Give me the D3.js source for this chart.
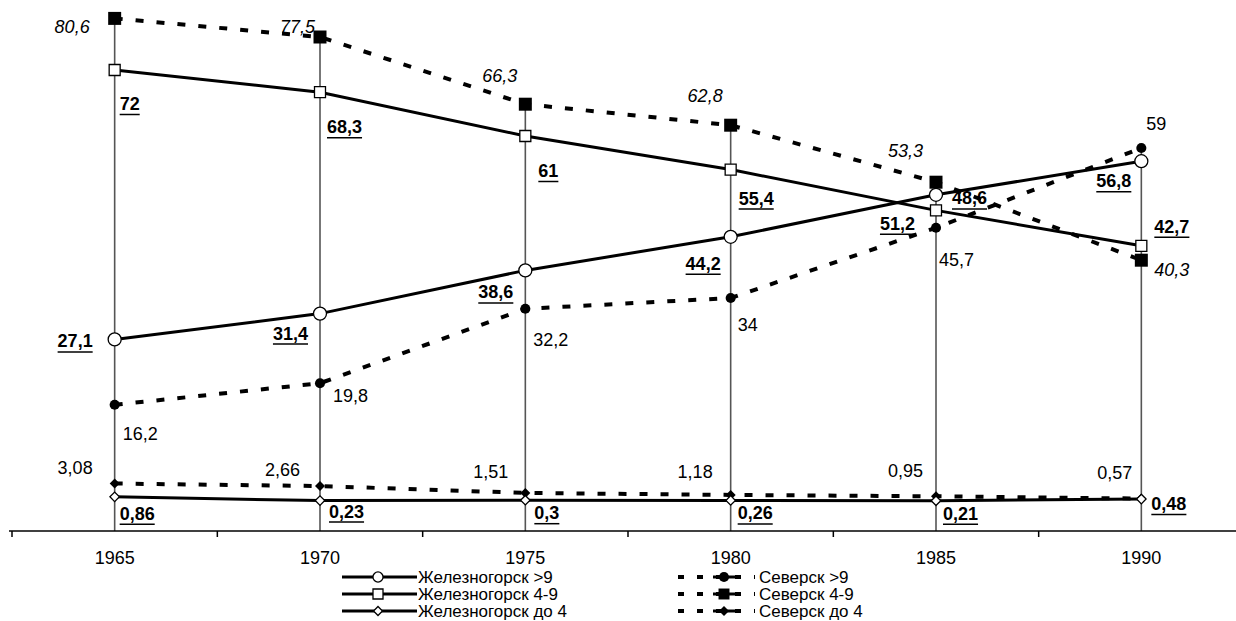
<!DOCTYPE html>
<html><head><meta charset="utf-8">
<script src="https://cdn.jsdelivr.net/npm/d3@7"></script>
<style>
html,body{margin:0;padding:0;background:#fff;}
svg{display:block;font-family:"Liberation Sans",Arial,sans-serif;}
</style></head>
<body><svg id="c" width="1236" height="621"></svg>
<script>
// ---- data ----
const years = [1965, 1970, 1975, 1980, 1985, 1990];
const zhel9  = [27.1, 31.4, 38.6, 44.2, 51.2, 56.8];
const zhel49 = [72, 68.3, 61, 55.4, 48.6, 42.7];
const zhel4  = [0.86, 0.23, 0.3, 0.26, 0.21, 0.48];
const sev9   = [16.2, 19.8, 32.2, 34, 45.7, 59];
const sev49  = [80.6, 77.5, 66.3, 62.8, 53.3, 40.3];
const sev4   = [3.08, 2.66, 1.51, 1.18, 0.95, 0.57];
const seriesNames = ["Железногорск >9", "Железногорск 4-9", "Железногорск до 4",
                     "Северск >9", "Северск 4-9", "Северск до 4"];

// ---- label placement (layout only) [dx, dy, anchor] ----
const labelPos = {
  zhel9:  [[-22,8,"end"],[-12,26,"end"],[-12,28,"end"],[-10,33,"end"],[-21,35,"end"],[-10,26,"end"]],
  zhel49: [[5,40,"start"],[7,41,"start"],[13,41,"start"],[8,35,"start"],[16,-6,"start"],[13,-13,"start"]],
  zhel4:  [[5,23,"start"],[9,17,"start"],[9,19,"start"],[7,19,"start"],[7,19,"start"],[10,11,"start"]],
  sev9:   [[8,35,"start"],[13,19,"start"],[8,37,"start"],[7,33,"start"],[3,38,"start"],[5,-18,"start"]],
  sev49:  [[-25,15,"end"],[-5,-4,"end"],[-8,-22,"end"],[-8,-23,"end"],[-13,-25,"end"],[13,16,"start"]],
  sev4:   [[-22,-10,"end"],[-20,-10,"end"],[-17,-15,"end"],[-18,-17,"end"],[-13,-19,"end"],[-9,-20,"end"]]
};

const series = [
  {key:"zhel9",  name:seriesNames[0], values:zhel9,  dashed:false, sym:d3.symbolCircle, size:133, fill:"#fff", rot:0, bold:true,  italic:false, lsize:80},
  {key:"zhel49", name:seriesNames[1], values:zhel49, dashed:false, sym:d3.symbolSquare, size:121, fill:"#fff", rot:0, bold:true,  italic:false, lsize:100},
  {key:"zhel4",  name:seriesNames[2], values:zhel4,  dashed:false, sym:d3.symbolSquare, size:45,  fill:"#fff", rot:45, bold:true, italic:false, lsize:40},
  {key:"sev9",   name:seriesNames[3], values:sev9,   dashed:true,  sym:d3.symbolCircle, size:80,  fill:"#000", rot:0, bold:false, italic:false, lsize:80},
  {key:"sev49",  name:seriesNames[4], values:sev49,  dashed:true,  sym:d3.symbolSquare, size:169, fill:"#000", rot:0, bold:false, italic:true,  lsize:120},
  {key:"sev4",   name:seriesNames[5], values:sev4,   dashed:true,  sym:d3.symbolSquare, size:50,  fill:"#000", rot:45, bold:false, italic:false, lsize:50}
];

const FONT = "Liberation Sans, Arial, sans-serif";
const svg = d3.select("#c");
const axisY = 531;
const x = d3.scaleBand().domain(years).range([12, 1244]).paddingInner(0).paddingOuter(0);
const cx = d => x(d) + x.bandwidth() / 2;
const y = d3.scaleLinear().domain([0, 80]).range([502, 22]);

// drop lines
const maxByYear = years.map((yr, i) => d3.max(series, s => s.values[i]));
svg.append("g").selectAll("line").data(years).join("line")
  .attr("x1", d => cx(d)).attr("x2", d => cx(d))
  .attr("y1", (d, i) => y(maxByYear[i])).attr("y2", axisY)
  .attr("stroke", "#555").attr("stroke-width", 1.6);

// x axis: tick marks at category boundaries, labels centred in categories
const xAxis = d3.axisBottom(x).tickSize(0).tickFormat("");
const gx = svg.append("g").attr("transform", `translate(0,${axisY})`).call(xAxis);
gx.select(".domain").remove();
svg.append("line").attr("x1", 9).attr("x2", 1236).attr("y1", axisY).attr("y2", axisY)
  .attr("stroke", "#000").attr("stroke-width", 1.6);
svg.append("g").selectAll("line").data(years).join("line")
  .attr("x1", d => x(d)).attr("x2", d => x(d)).attr("y1", axisY).attr("y2", axisY + 6)
  .attr("stroke", "#000").attr("stroke-width", 1.5);
svg.append("g").selectAll("text").data(years).join("text")
  .attr("x", d => cx(d)).attr("y", axisY + 33).attr("text-anchor", "middle")
  .style("font-size", "18px").style("font-family", "'Liberation Sans', Arial, sans-serif")
  .attr("fill", "#000").text(d => d);

// lines
const line = d3.line().x((v, i) => cx(years[i])).y(v => y(v));
const order = [5, 3, 4, 2, 0, 1];
order.forEach(k => {
  const s = series[k];
  svg.append("path").datum(s.values).attr("d", line)
    .attr("fill", "none").attr("stroke", "#000")
    .attr("stroke-width", s.dashed ? 4 : 3)
    .attr("stroke-dasharray", s.dashed ? "8,13" : null);
});
// markers
order.forEach(k => {
  const s = series[k];
  svg.append("g").selectAll("path").data(s.values).join("path")
    .attr("d", d3.symbol(s.sym, s.size))
    .attr("transform", (v, i) => `translate(${cx(years[i])},${y(v)}) rotate(${s.rot})`)
    .attr("fill", s.fill).attr("stroke", "#000").attr("stroke-width", s.fill === "#fff" ? 1.3 : 0);
});
// labels
const fmt = v => String(v).replace(".", ",");
series.forEach(s => {
  const g = svg.append("g");
  s.values.forEach((v, i) => {
    const p = labelPos[s.key][i];
    const t = g.append("text")
      .attr("x", cx(years[i]) + p[0]).attr("y", y(v) + p[1])
      .attr("text-anchor", p[2]).attr("font-size", 18).attr("font-family", FONT)
      .attr("font-weight", s.bold ? "bold" : "normal")
      .attr("font-style", s.italic ? "italic" : "normal")
      .attr("fill", "#000").text(fmt(v));
    if (s.bold) {
      const bb = t.node().getBBox();
      g.append("line").attr("x1", bb.x).attr("x2", bb.x + bb.width)
        .attr("y1", y(v) + p[1] + 4.5).attr("y2", y(v) + p[1] + 4.5)
        .attr("stroke", "#000").attr("stroke-width", 1.5);
    }
  });
});

// legend
const legRows = [577, 594, 611];
const legCols = [{x1: 342, x2: 417, mx: 378, tx: 418}, {x1: 678, x2: 755, mx: 724, tx: 759}];
series.forEach((s, k) => {
  const col = legCols[k < 3 ? 0 : 1];
  const ry = legRows[k % 3];
  const g = svg.append("g");
  g.append("line").attr("x1", col.x1).attr("x2", col.x2).attr("y1", ry).attr("y2", ry)
    .attr("stroke", "#000").attr("stroke-width", s.dashed ? 4 : 3)
    .attr("stroke-dasharray", s.dashed ? "6,13" : null);
  if (s.dashed) {
    g.append("line").attr("x1", col.mx - 11).attr("x2", col.mx + 11).attr("y1", ry).attr("y2", ry)
      .attr("stroke", "#000").attr("stroke-width", 3);
  }
  g.append("path").attr("d", d3.symbol(s.sym, s.lsize))
    .attr("transform", `translate(${col.mx},${ry}) rotate(${s.rot})`)
    .attr("fill", s.fill).attr("stroke", "#000").attr("stroke-width", s.fill === "#fff" ? 1.3 : 0);
  g.append("text").attr("x", col.tx).attr("y", ry + 5.5).attr("font-size", 17).attr("font-family", FONT)
    .attr("fill", "#000").text(s.name);
});
</script></body></html>
